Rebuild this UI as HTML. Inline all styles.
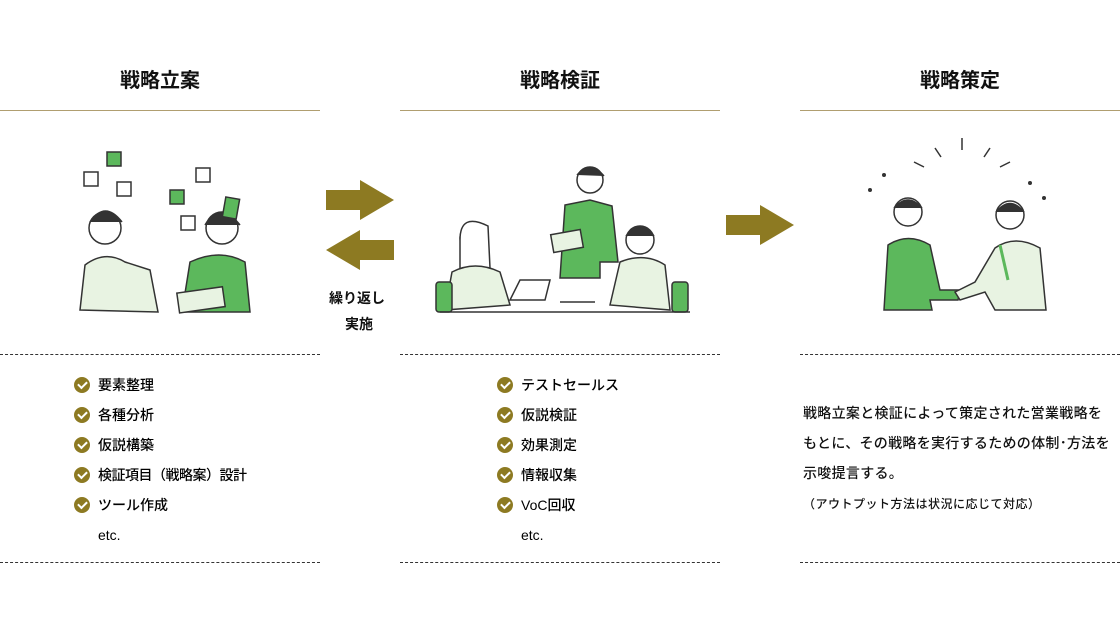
<!DOCTYPE html>
<html><head><meta charset="utf-8"><style>
body{margin:0;width:1120px;height:630px;background:#fff;position:relative;overflow:hidden;font-family:"Liberation Sans","Noto Sans CJK JP",sans-serif;color:#111}
.a{position:absolute}
.t{position:absolute;width:320px;text-align:center;top:64px;font-size:20px;font-weight:bold}
.hl{position:absolute;top:110px;width:320px;height:1px;background:#b09e70}
.dl{position:absolute;width:320px;border-top:1.5px dashed #333}
.li{position:absolute;font-size:14px;font-weight:500;line-height:20px;white-space:nowrap;color:#000}
.ck{position:absolute;width:16px;height:16px;border-radius:50%;background:#8d7a22}
.ck:after{content:"";position:absolute;left:4px;top:3.5px;width:7px;height:4px;border-left:2px solid #fff;border-bottom:2px solid #fff;transform:rotate(-45deg)}
.p{position:absolute;font-size:14px;letter-spacing:0.3px;font-weight:500;white-space:nowrap}
</style></head><body>
<div class="t" style="left:0">戦略立案</div>
<div class="t" style="left:400px">戦略検証</div>
<div class="t" style="left:800px">戦略策定</div>
<div class="hl" style="left:0"></div><div class="hl" style="left:400px"></div><div class="hl" style="left:800px"></div>
<div class="dl" style="left:0;top:354px"></div><div class="dl" style="left:400px;top:354px"></div><div class="dl" style="left:800px;top:354px"></div>
<div class="dl" style="left:0;top:562px"></div><div class="dl" style="left:400px;top:562px"></div><div class="dl" style="left:800px;top:562px"></div>

<svg class="a" style="left:0;top:0" width="1120" height="630">
<g fill="#8d7a22">
<polygon points="326,190 360,190 360,180 394,200 360,220 360,210 326,210"/>
<polygon points="394,240 360,240 360,230 326,250 360,270 360,260 394,260"/>
<polygon points="726,215 760,215 760,205 794,225 760,245 760,235 726,235"/>
</g>
<g stroke="#333" stroke-width="1.5" fill="none">
<rect x="107" y="152" width="14" height="14" fill="#5cb85c"/><rect x="84" y="172" width="14" height="14"/><rect x="117" y="182" width="14" height="14"/>
<rect x="170" y="190" width="14" height="14" fill="#5cb85c"/><rect x="196" y="168" width="14" height="14"/><rect x="181" y="216" width="14" height="14"/>
<circle cx="105" cy="228" r="16"/><path d="M90 222 Q105 200 122 222" fill="#333"/>
<path d="M80 310 L85 265 Q105 250 125 262 L150 270 L158 312 Z" fill="#e8f3e2"/>
<circle cx="222" cy="228" r="16"/><path d="M205 225 Q220 200 240 225" fill="#333"/>
<path d="M182 312 L190 262 Q220 248 245 262 L250 312 Z" fill="#5cb85c"/>
<rect x="224" y="198" width="14" height="20" fill="#5cb85c" transform="rotate(10 231 208)"/>
<rect x="178" y="290" width="46" height="20" fill="#e8f3e2" transform="rotate(-8 200 300)"/>
<circle cx="590" cy="180" r="13"/><path d="M577 175 Q590 160 604 176" fill="#333"/>
<path d="M560 278 L565 205 L590 200 L612 206 L618 262 L600 262 L600 278 Z" fill="#5cb85c"/>
<rect x="552" y="232" width="30" height="18" fill="#e8f3e2" transform="rotate(-10 567 241)"/>
<circle cx="474" cy="238" r="14"/><path d="M460 240 Q460 212 488 226 L490 268 L460 270 Z" fill="#fff"/>
<path d="M445 310 L452 272 Q475 260 500 272 L510 305 Z" fill="#e8f3e2"/>
<circle cx="640" cy="240" r="14"/><path d="M626 236 Q640 218 654 236" fill="#333"/>
<path d="M610 305 L620 262 Q645 252 665 265 L670 310 Z" fill="#e8f3e2"/>
<rect x="436" y="282" width="16" height="30" rx="3" fill="#5cb85c"/><rect x="672" y="282" width="16" height="30" rx="3" fill="#5cb85c"/>
<path d="M440 312 L690 312"/><path d="M510 300 L545 300 L550 280 L520 280 Z M560 302 L595 302"/>
<path d="M962 138 L962 150 M935 148 L941 157 M914 162 L924 167 M990 148 L984 157 M1010 162 L1000 167"/>
<circle cx="908" cy="212" r="14"/><path d="M894 208 Q908 192 922 208" fill="#333"/>
<path d="M884 310 L888 245 Q908 232 930 245 L940 290 L960 290 L958 300 L930 300 L932 310 Z" fill="#5cb85c"/>
<circle cx="1010" cy="215" r="14"/><path d="M996 212 Q1010 195 1024 212" fill="#333"/>
<path d="M1046 310 L1040 248 Q1015 234 995 248 L975 282 L955 292 L960 300 L985 292 L995 310 Z" fill="#e8f3e2"/>
<path d="M1000 245 L1008 280" stroke="#5cb85c" stroke-width="3"/>
</g>
<g fill="#333"><circle cx="884" cy="175" r="2"/><circle cx="870" cy="190" r="2"/><circle cx="1030" cy="183" r="2"/><circle cx="1044" cy="198" r="2"/></g>
</svg>

<div class="p" style="left:329px;top:288px;font-size:14px;font-weight:bold;letter-spacing:0">繰り返し</div>
<div class="p" style="left:345px;top:314px;font-size:14px;font-weight:bold;letter-spacing:0">実施</div>

<div class="ck" style="left:74px;top:377px"></div><div class="li" style="left:98px;top:375px">要素整理</div>
<div class="ck" style="left:74px;top:407px"></div><div class="li" style="left:98px;top:405px">各種分析</div>
<div class="ck" style="left:74px;top:437px"></div><div class="li" style="left:98px;top:435px">仮説構築</div>
<div class="ck" style="left:74px;top:467px"></div><div class="li" style="left:98px;top:465px;letter-spacing:-0.5px">検証項目（戦略案）設計</div>
<div class="ck" style="left:74px;top:497px"></div><div class="li" style="left:98px;top:495px">ツール作成</div>
<div class="li" style="left:98px;top:525px">etc.</div>

<div class="ck" style="left:497px;top:377px"></div><div class="li" style="left:521px;top:375px">テストセールス</div>
<div class="ck" style="left:497px;top:407px"></div><div class="li" style="left:521px;top:405px">仮説検証</div>
<div class="ck" style="left:497px;top:437px"></div><div class="li" style="left:521px;top:435px">効果測定</div>
<div class="ck" style="left:497px;top:467px"></div><div class="li" style="left:521px;top:465px">情報収集</div>
<div class="ck" style="left:497px;top:497px"></div><div class="li" style="left:521px;top:495px">VoC回収</div>
<div class="li" style="left:521px;top:525px">etc.</div>

<div class="p" style="left:803px;top:403px">戦略立案と検証によって策定された営業戦略を</div>
<div class="p" style="left:803px;top:433px">もとに、その戦略を実行するための体制･方法を</div>
<div class="p" style="left:803px;top:463px">示唆提言する。</div>
<div class="p" style="left:803px;top:495px;font-size:12px;letter-spacing:0.5px">（アウトプット方法は状況に応じて対応）</div>
</body></html>
